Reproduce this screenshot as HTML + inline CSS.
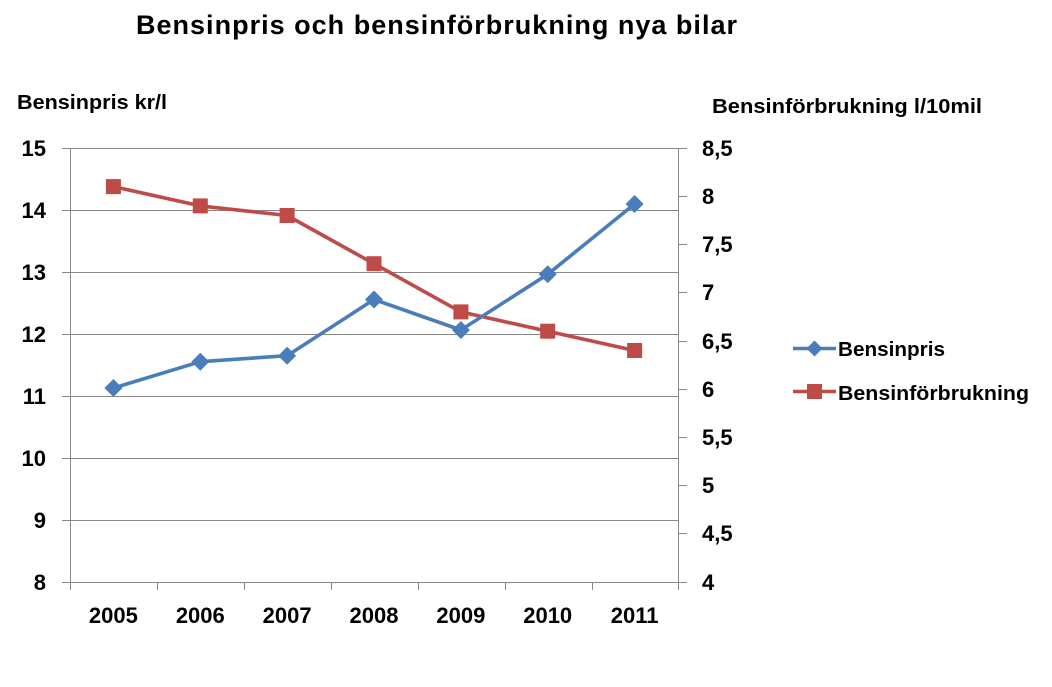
<!DOCTYPE html>
<html>
<head>
<meta charset="utf-8">
<style>
  html, body { margin: 0; padding: 0; background: #ffffff; }
  svg { display: block; }
  text { font-family: "Liberation Sans", Arial, sans-serif; fill: #000; }
</style>
</head>
<body>
<svg width="1052" height="687" viewBox="0 0 1052 687" xmlns="http://www.w3.org/2000/svg">
  <rect x="0" y="0" width="1052" height="687" fill="#ffffff"/>

  <!-- Title -->
  <text x="136" y="34" font-size="27" font-weight="bold" textLength="601" lengthAdjust="spacing">Bensinpris och bensinförbrukning nya bilar</text>

  <!-- Axis titles -->
  <text x="17" y="109" font-size="20" font-weight="bold" textLength="150" lengthAdjust="spacingAndGlyphs">Bensinpris kr/l</text>
  <text x="712" y="113" font-size="20" font-weight="bold" textLength="270" lengthAdjust="spacingAndGlyphs">Bensinförbrukning l/10mil</text>

  <!-- Gridlines (left axis) -->
  <g stroke="#868686" stroke-width="1" shape-rendering="crispEdges">
    <line x1="62" y1="148.5" x2="678" y2="148.5"/>
    <line x1="62" y1="210.5" x2="678" y2="210.5"/>
    <line x1="62" y1="272.5" x2="678" y2="272.5"/>
    <line x1="62" y1="334.5" x2="678" y2="334.5"/>
    <line x1="62" y1="396.5" x2="678" y2="396.5"/>
    <line x1="62" y1="458.5" x2="678" y2="458.5"/>
    <line x1="62" y1="520.5" x2="678" y2="520.5"/>
    <line x1="62" y1="582.5" x2="678" y2="582.5"/>
    <!-- left axis -->
    <line x1="70.5" y1="148" x2="70.5" y2="590"/>
    <!-- right axis -->
    <line x1="678.5" y1="148" x2="678.5" y2="590"/>
    <!-- category ticks -->
    <line x1="157.5" y1="582" x2="157.5" y2="590"/>
    <line x1="244.5" y1="582" x2="244.5" y2="590"/>
    <line x1="331.5" y1="582" x2="331.5" y2="590"/>
    <line x1="418.5" y1="582" x2="418.5" y2="590"/>
    <line x1="505.5" y1="582" x2="505.5" y2="590"/>
    <line x1="592.5" y1="582" x2="592.5" y2="590"/>
    <!-- right axis ticks -->
    <line x1="678" y1="148.5" x2="687" y2="148.5"/>
    <line x1="678" y1="196.5" x2="687" y2="196.5"/>
    <line x1="678" y1="244.5" x2="687" y2="244.5"/>
    <line x1="678" y1="292.5" x2="687" y2="292.5"/>
    <line x1="678" y1="341.5" x2="687" y2="341.5"/>
    <line x1="678" y1="389.5" x2="687" y2="389.5"/>
    <line x1="678" y1="437.5" x2="687" y2="437.5"/>
    <line x1="678" y1="485.5" x2="687" y2="485.5"/>
    <line x1="678" y1="533.5" x2="687" y2="533.5"/>
    <line x1="678" y1="582.5" x2="687" y2="582.5"/>
  </g>

  <!-- Left tick labels -->
  <g font-size="22" font-weight="bold" text-anchor="end">
    <text x="46" y="156">15</text>
    <text x="46" y="218">14</text>
    <text x="46" y="280">13</text>
    <text x="46" y="342">12</text>
    <text x="46" y="404">11</text>
    <text x="46" y="466">10</text>
    <text x="46" y="528">9</text>
    <text x="46" y="590">8</text>
  </g>

  <!-- Right tick labels -->
  <g font-size="22" font-weight="bold">
    <text x="702" y="156">8,5</text>
    <text x="702" y="204">8</text>
    <text x="702" y="252">7,5</text>
    <text x="702" y="300">7</text>
    <text x="702" y="349">6,5</text>
    <text x="702" y="397">6</text>
    <text x="702" y="445">5,5</text>
    <text x="702" y="493">5</text>
    <text x="702" y="541">4,5</text>
    <text x="702" y="590">4</text>
  </g>

  <!-- Category labels -->
  <g font-size="22" font-weight="bold" text-anchor="middle">
    <text x="113.4" y="623">2005</text>
    <text x="200.3" y="623">2006</text>
    <text x="287.1" y="623">2007</text>
    <text x="374" y="623">2008</text>
    <text x="460.9" y="623">2009</text>
    <text x="547.7" y="623">2010</text>
    <text x="634.6" y="623">2011</text>
  </g>

  <!-- Bensinförbrukning series (red) -->
  <polyline fill="none" stroke="#BE4B48" stroke-width="3.6" stroke-linejoin="round"
    points="113.4,186.6 200.3,205.9 287.1,215.5 374,263.7 460.9,311.9 547.7,331.2 634.6,350.5"/>
  <g fill="#BE4B48">
    <rect x="105.9" y="179.1" width="15" height="15"/>
    <rect x="192.8" y="198.4" width="15" height="15"/>
    <rect x="279.6" y="208" width="15" height="15"/>
    <rect x="366.5" y="256.2" width="15" height="15"/>
    <rect x="453.4" y="304.4" width="15" height="15"/>
    <rect x="540.2" y="323.7" width="15" height="15"/>
    <rect x="627.1" y="343" width="15" height="15"/>
  </g>

  <!-- Bensinpris series (blue) -->
  <polyline fill="none" stroke="#4A7EBB" stroke-width="3.6" stroke-linejoin="round"
    points="113.4,388 200.3,361.7 287.1,355.7 374,299.5 460.9,330 547.7,274.3 634.6,204"/>
  <g fill="#4A7EBB">
    <polygon points="113.4,379 122.4,388 113.4,397 104.4,388"/>
    <polygon points="200.3,352.7 209.3,361.7 200.3,370.7 191.3,361.7"/>
    <polygon points="287.1,346.7 296.1,355.7 287.1,364.7 278.1,355.7"/>
    <polygon points="374,290.5 383,299.5 374,308.5 365,299.5"/>
    <polygon points="460.9,321 469.9,330 460.9,339 451.9,330"/>
    <polygon points="547.7,265.3 556.7,274.3 547.7,283.3 538.7,274.3"/>
    <polygon points="634.6,195 643.6,204 634.6,213 625.6,204"/>
  </g>

  <!-- Legend -->
  <line x1="793" y1="348.5" x2="836" y2="348.5" stroke="#4A7EBB" stroke-width="3.6"/>
  <polygon points="814.5,340.5 822.5,348.5 814.5,356.5 806.5,348.5" fill="#4A7EBB"/>
  <text x="838" y="356" font-size="20" font-weight="bold" textLength="107" lengthAdjust="spacingAndGlyphs">Bensinpris</text>

  <line x1="793" y1="391.5" x2="836" y2="391.5" stroke="#BE4B48" stroke-width="3.6"/>
  <rect x="807" y="384" width="15" height="15" fill="#BE4B48"/>
  <text x="838" y="400" font-size="20" font-weight="bold" textLength="191" lengthAdjust="spacingAndGlyphs">Bensinförbrukning</text>
</svg>
</body>
</html>
